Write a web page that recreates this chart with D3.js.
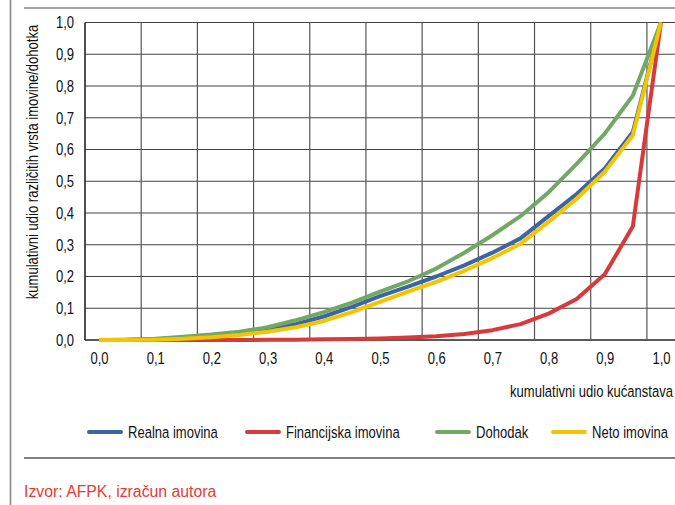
<!DOCTYPE html>
<html><head><meta charset="utf-8">
<script src="https://cdn.jsdelivr.net/npm/d3@7"></script>
<style>
html,body{margin:0;padding:0;background:#fff;}
svg{display:block;}
.nar, .nar text{font-family:"Liberation Sans",Arial,sans-serif;}
</style></head>
<body><svg id="c" width="675" height="505"></svg>
<script>
// cumulative share of households (x)
const shares = [0,0.05,0.10,0.15,0.20,0.25,0.30,0.35,0.40,0.45,0.50,0.55,0.60,0.65,0.70,0.75,0.80,0.85,0.90,0.95,1.00];
// series (cumulative share of asset/income)
const realna      = [0,0.0005,0.002,0.006,0.012,0.021,0.033,0.050,0.074,0.104,0.138,0.168,0.200,0.235,0.275,0.320,0.390,0.460,0.540,0.655,1.0];
const financijska = [0,0,0,0,0,0,0.0005,0.001,0.002,0.003,0.005,0.008,0.012,0.019,0.031,0.050,0.083,0.129,0.207,0.358,1.0];
const dohodak     = [0,0.001,0.004,0.010,0.017,0.026,0.040,0.062,0.088,0.118,0.152,0.185,0.225,0.275,0.330,0.390,0.465,0.555,0.650,0.770,1.0];
const neto        = [0,0,0.001,0.004,0.009,0.016,0.026,0.040,0.060,0.088,0.120,0.152,0.183,0.218,0.258,0.303,0.372,0.445,0.530,0.645,1.0];
const seriesNames = ["Realna imovina","Financijska imovina","Dohodak","Neto imovina"];
const seriesColors = ["#3b66a2","#d8393a","#72a866","#f4c400"];
const xTickValues = [0,0.1,0.2,0.3,0.4,0.5,0.6,0.7,0.8,0.9,1.0];
const yTickValues = [0,0.1,0.2,0.3,0.4,0.5,0.6,0.7,0.8,0.9,1.0];
const yTitle = "kumulativni udio različitih vrsta imovine/dohotka";
const xTitle = "kumulativni udio kućanstava";
const source = "Izvor: AFPK, izračun autora";

const svg = d3.select("#c");
const fmt = v => d3.format(".1f")(v).replace(".", ",");
const FS = 16.5, SQ = 0.79;

const x = d3.scaleLinear().domain([-0.025, 1.025]).range([85, 675]);
const y = d3.scaleLinear().domain([0, 1]).range([340, 22.5]);

// frame lines
svg.append("line").attr("x1",10.5).attr("x2",10.5).attr("y1",0).attr("y2",505).attr("stroke","#8a8a8a").attr("stroke-width",1.6);
svg.append("line").attr("x1",24).attr("x2",675).attr("y1",8).attr("y2",8).attr("stroke","#8a8a8a").attr("stroke-width",1.6);
svg.append("line").attr("x1",24).attr("x2",675).attr("y1",458).attr("y2",458).attr("stroke","#808080").attr("stroke-width",2);

// gridlines
const g = svg.append("g");
g.selectAll(".hg").data(yTickValues).join("line")
  .attr("x1", x(-0.025)).attr("x2", 675)
  .attr("y1", d => y(d)).attr("y2", d => y(d))
  .attr("stroke", d => d===0 ? "#222" : "#444").attr("stroke-width", d => d===0 ? 1.6 : 1.2);
const vgrid = xTickValues.map(v => v - 0.025);
g.selectAll(".vg").data(vgrid).join("line")
  .attr("x1", d => x(d)).attr("x2", d => x(d))
  .attr("y1", y(1)).attr("y2", y(0))
  .attr("stroke", (d,i) => i===0 ? "#222" : "#555").attr("stroke-width", (d,i) => i===0 ? 1.6 : 1.2);

// y axis labels
const ya = svg.append("g").attr("class","nar").attr("transform", `translate(${x(-0.025)},0)`)
  .call(d3.axisLeft(y).tickValues(yTickValues).tickFormat(fmt).tickSize(0).tickPadding(11));
ya.select(".domain").remove();
ya.selectAll("text").attr("font-size", FS).attr("fill", "#111");

// x axis labels
const xa = svg.append("g").attr("class","nar").attr("transform", `translate(0,${y(0)})`)
  .call(d3.axisBottom(x).tickValues(xTickValues).tickFormat(fmt).tickSize(0).tickPadding(12));
xa.select(".domain").remove();
xa.selectAll("text").attr("font-size", FS).attr("fill", "#111");

// titles
svg.append("text").attr("class","nar").attr("transform","translate(38,162) rotate(-90)")
  .attr("text-anchor","middle").attr("font-size",FS).attr("fill","#111").text(yTitle);
svg.append("text").attr("class","nar").attr("x",673).attr("y",397.5)
  .attr("text-anchor","end").attr("font-size",FS).attr("fill","#111").text(xTitle);

// lines
const allSeries = [realna, financijska, dohodak, neto];
const line = d3.line().x((d,i) => x(shares[i])).y(d => y(d)).curve(d3.curveLinear);
svg.append("g").selectAll("path").data(allSeries).join("path")
  .attr("d", d => line(d)).attr("fill","none")
  .attr("stroke", (d,i) => seriesColors[i]).attr("stroke-width", 4)
  .attr("stroke-linejoin","round");

// legend
const legX = [89, 247, 437, 553];
const leg = svg.append("g").attr("class","nar");
seriesNames.forEach((n,i) => {
  leg.append("line").attr("x1", legX[i]).attr("x2", legX[i]+32).attr("y1", 432).attr("y2", 432)
    .attr("stroke", seriesColors[i]).attr("stroke-width", 4).attr("stroke-linecap","round");
  leg.append("text").attr("x", legX[i]+39).attr("y", 438).attr("font-size", FS).attr("fill","#111").text(n);
});

// condensed look: squeeze glyphs horizontally around each text's anchor x
svg.selectAll("text.nar, .nar text").each(function(){
  const x0 = +(this.getAttribute("x") || 0);
  const prev = this.getAttribute("transform") || "";
  this.setAttribute("transform", `${prev} translate(${x0},0) scale(${SQ},1) translate(${-x0},0)`);
});

// source
svg.append("text").attr("x",24).attr("y",497).attr("font-family","'Liberation Sans',Arial,sans-serif")
  .attr("font-size",15.8).attr("fill","#e53b36").text(source);
</script></body></html>
